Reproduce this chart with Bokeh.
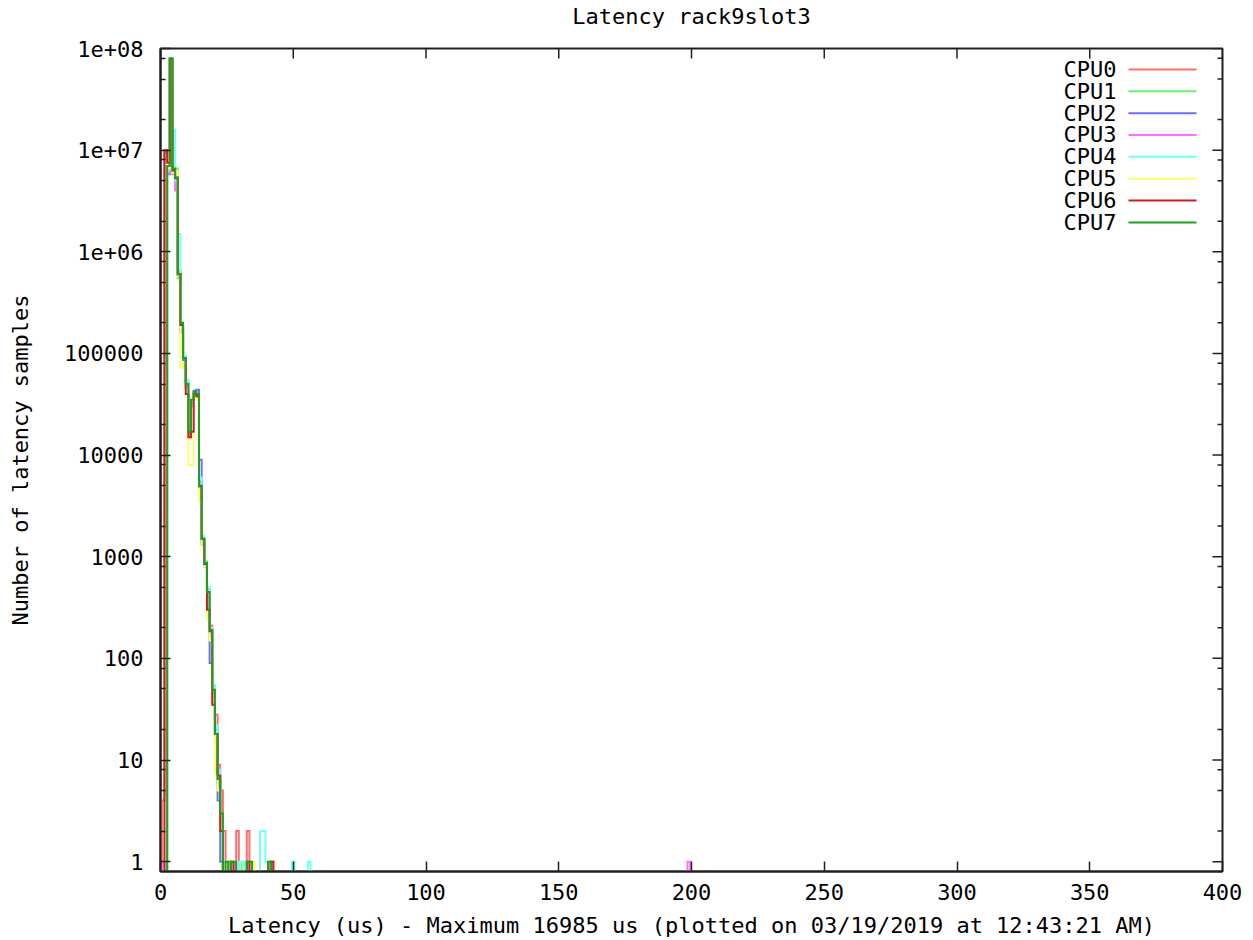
import numpy as np
from bokeh.plotting import figure
from bokeh.models import FixedTicker, Range1d, LinearAxis
from bokeh.core.properties import value
from bokeh.embed import file_html
from bokeh.resources import INLINE

# ---------------- data ----------------
title_text = "Latency rack9slot3"
x_label = "Latency (us) - Maximum 16985 us (plotted on 03/19/2019 at 12:43:21 AM)"
y_label = "Number of latency samples"

cpu_names = ["CPU0", "CPU1", "CPU2", "CPU3", "CPU4", "CPU5", "CPU6", "CPU7"]
cpu_colors = ["#ff6e6e", "#6cf06c", "#6e6eff", "#ff6eff",
              "#6effff", "#ffff6e", "#c81e1e", "#1ea01e"]

x_ticks = [0, 50, 100, 150, 200, 250, 300, 350, 400]
y_ticks = [1, 10, 100, 1000, 10000, 100000, 1000000, 10000000, 100000000]
y_tick_labels = ["1", "10", "100", "1000", "10000", "100000",
                 "1e+06", "1e+07", "1e+08"]
y_minor_mult = [2, 5, 8]

# latency bins (us) and sample counts per CPU (bins not listed are empty)
cpu0_bins = [1, 2, 3, 4, 5, 6, 7, 8, 9, 10, 11, 12, 13, 14, 15, 16, 17, 18, 19,
             20, 21, 22, 23, 24, 25, 29, 33, 42]
cpu0_counts = [4, 9.5e6, 1.0e7, 7.6e7, 6.0e6, 5.0e6, 6.5e5, 1.8e5, 8.8e4, 5.2e4,
               1.6e4, 3.2e4, 4.0e4, 3.8e4, 5.5e3, 1.4e3, 900, 480, 210,
               50, 28, 9, 5, 2, 1, 2, 2, 1]

cpu1_bins = [3, 4, 5, 6, 7, 8, 9, 10, 11, 12, 13, 14, 15, 16, 17, 18, 19,
             20, 21, 22, 23, 26, 31]
cpu1_counts = [6.5e6, 7.8e7, 6.8e6, 6.6e6, 5.5e5, 1.9e5, 9.2e4, 5.3e4,
               1.8e4, 3.1e4, 4.1e4, 3.9e4, 5.0e3, 1.45e3, 850, 430, 180,
               45, 16, 6, 2, 1, 1]

cpu2_bins = [3, 4, 5, 6, 7, 8, 9, 10, 11, 12, 13, 14, 15, 16, 17, 18, 19,
             20, 21, 22, 23]
cpu2_counts = [5.8e6, 7.9e7, 6.2e6, 5.2e6, 6.2e5, 1.7e5, 8.6e4, 4.6e4,
               1.6e4, 3.3e4, 4.3e4, 4.4e4, 9.0e3, 1.3e3, 800, 400, 90,
               40, 15, 4, 1]

cpu3_bins = [1, 3, 4, 5, 6, 7, 8, 9, 10, 11, 12, 13, 14, 15, 16, 17, 18, 19,
             20, 21, 22, 23, 24, 27, 199]
cpu3_counts = [1, 6.0e6, 7.7e7, 5.8e6, 4.0e6, 6.0e5, 1.6e5, 9.0e4, 5.0e4,
               1.5e4, 3.0e4, 4.0e4, 3.7e4, 5.2e3, 1.5e3, 880, 460, 200,
               52, 20, 7, 3, 1, 1, 1]

cpu4_bins = [3, 4, 5, 6, 7, 8, 9, 10, 11, 12, 13, 14, 15, 16, 17, 18, 19,
             20, 21, 22, 23, 24, 30, 31, 38, 39, 40, 50, 56]
cpu4_counts = [6.4e6, 8.0e7, 1.6e7, 5.0e6, 1.5e6, 1.8e5, 9.5e4, 5.5e4,
               1.8e4, 3.4e4, 4.1e4, 3.9e4, 6.0e3, 1.6e3, 900, 500, 200,
               55, 22, 8, 3, 1, 1, 1, 2, 2, 1, 1, 1]

cpu5_bins = [3, 4, 5, 6, 7, 8, 9, 10, 11, 12, 13, 14, 15, 16, 17, 18, 19,
             20, 21, 22, 23, 25, 35]
cpu5_counts = [6.7e6, 7.5e7, 6.0e6, 6.2e6, 5.8e5, 7.2e4, 8.0e4, 4.5e4,
               8.0e3, 8.0e3, 3.8e4, 3.5e4, 3.5e3, 1.2e3, 800, 240, 150,
               40, 7, 5, 2, 1, 1]

cpu6_bins = [2, 3, 4, 5, 6, 7, 8, 9, 10, 11, 12, 13, 14, 15, 16, 17, 18, 19,
             20, 21, 22, 23, 27, 33, 42]
cpu6_counts = [1.0e7, 7.5e6, 7.9e7, 6.3e6, 5.3e6, 6.0e5, 1.9e5, 9.0e4, 4.0e4,
               1.5e4, 1.7e4, 4.0e4, 3.8e4, 5.0e3, 1.5e3, 850, 300, 185,
               35, 18, 7, 2, 1, 1, 1]

cpu7_bins = [3, 4, 5, 6, 7, 8, 9, 10, 11, 12, 13, 14, 15, 16, 17, 18, 19,
             20, 21, 22, 23, 25, 27, 28, 33, 34, 41]
cpu7_counts = [7.0e6, 8.0e7, 6.6e6, 5.4e6, 6.0e5, 2.0e5, 9.0e4, 5.0e4,
               1.7e4, 3.5e4, 4.2e4, 4.0e4, 4.9e3, 1.5e3, 870, 450, 190,
               49, 18, 6.5, 3, 1, 1, 1, 1, 1, 1]

cpu_bins = [cpu0_bins, cpu1_bins, cpu2_bins, cpu3_bins,
            cpu4_bins, cpu5_bins, cpu6_bins, cpu7_bins]
cpu_counts = [cpu0_counts, cpu1_counts, cpu2_counts, cpu3_counts,
              cpu4_counts, cpu5_counts, cpu6_counts, cpu7_counts]

# ---------------- layout constants ----------------
FONT = "DejaVu Sans Mono"
FS = "22px"
W, H = 1253, 940
F_LEFT, F_RIGHT, F_TOP, F_BOTTOM = 160, 1222, 47, 872   # frame in canvas px
X0, X1 = 0, 400
Y0, Y1 = 0.8, 1e8
EMPTY = 1e-3   # empty bins drawn below the visible range (like gnuplot)
FRAME_COLOR = "#202020"

p = figure(width=W, height=H, title=None,
           x_range=Range1d(X0, X1), y_range=Range1d(Y0, Y1),
           y_axis_type="log", output_backend="svg", toolbar_location=None,
           min_border_left=F_LEFT, min_border_right=W - F_RIGHT,
           min_border_top=F_TOP, min_border_bottom=H - F_BOTTOM)

p.grid.grid_line_color = None
p.background_fill_color = "white"
p.border_fill_color = "white"
p.outline_line_color = FRAME_COLOR
p.outline_line_width = 2

y_minor = [m * t for t in y_ticks[:-1] for m in y_minor_mult]
overrides = {t: lab for t, lab in zip(y_ticks, y_tick_labels)}


def style_axis(ax):
    ax.axis_line_color = FRAME_COLOR
    ax.axis_line_width = 2
    ax.major_tick_line_color = FRAME_COLOR
    ax.major_tick_line_width = 1.5
    ax.minor_tick_line_color = FRAME_COLOR
    ax.minor_tick_line_width = 1.5
    ax.major_tick_in = 10
    ax.major_tick_out = 0
    ax.minor_tick_in = 5
    ax.minor_tick_out = 0
    ax.major_label_text_font = FONT
    ax.major_label_text_font_size = FS
    ax.major_label_text_color = "black"
    ax.axis_label_text_font = FONT
    ax.axis_label_text_font_size = FS
    ax.axis_label_text_font_style = "normal"
    ax.axis_label_text_color = "black"


xa = p.xaxis[0]
xa.ticker = FixedTicker(ticks=x_ticks)
style_axis(xa)
xa.major_label_standoff = 12
xa.axis_label = x_label
xa.axis_label_standoff = 10

ya = p.yaxis[0]
ya.ticker = FixedTicker(ticks=y_ticks, minor_ticks=y_minor)
ya.major_label_overrides = overrides
style_axis(ya)
ya.major_label_standoff = 17
ya.axis_label = y_label
ya.axis_label_standoff = 28

# title: carried by a tick-less axis above the frame
title_ax = LinearAxis(ticker=FixedTicker(ticks=[]), axis_label=title_text)
style_axis(title_ax)
title_ax.axis_line_color = None
title_ax.major_tick_in = 0
title_ax.minor_tick_in = 0
title_ax.major_label_standoff = 0
title_ax.axis_label_standoff = 20
p.add_layout(title_ax, "above")


# ---------------- helpers: pixel offsets inside the frame -----------------
def x_at(px):
    return X0 + (px - F_LEFT) / (F_RIGHT - F_LEFT) * (X1 - X0)


def y_at(py):
    ly0, ly1 = np.log10(Y0), np.log10(Y1)
    return 10 ** (ly1 - (py - F_TOP) / (F_BOTTOM - F_TOP) * (ly1 - ly0))


# mirrored ticks on top and right border (gnuplot style)
top_y1 = y_at(F_TOP + 10)
p.segment(x0=x_ticks, y0=[Y1] * len(x_ticks), x1=x_ticks,
          y1=[top_y1] * len(x_ticks), line_color=FRAME_COLOR, line_width=1.5)
p.segment(x0=[x_at(F_RIGHT - 10)] * len(y_ticks), y0=y_ticks,
          x1=[X1] * len(y_ticks), y1=y_ticks,
          line_color=FRAME_COLOR, line_width=1.5)
p.segment(x0=[x_at(F_RIGHT - 5)] * len(y_minor), y0=y_minor,
          x1=[X1] * len(y_minor), y1=y_minor,
          line_color=FRAME_COLOR, line_width=1.5)

# ---------------- histogram steps ----------------
n_bins = 210
x_bins = np.arange(n_bins)
for bins, counts, color in zip(cpu_bins, cpu_counts, cpu_colors):
    y = np.full(n_bins, EMPTY)
    for b, c in zip(bins, counts):
        y[b] = c
    p.step(x_bins, y, mode="center", line_color=color, line_width=2,
           line_join="miter")

# ---------------- legend (text left, line right, like gnuplot) -------------
rows = [y_at(68 + i * 21.9) for i in range(len(cpu_names))]
p.text(x=[x_at(1116)] * len(cpu_names), y=rows, text=cpu_names,
       text_align="right", text_baseline="middle",
       text_font=value(FONT), text_font_size=value(FS), text_color="black")
p.segment(x0=[x_at(1128)] * len(cpu_names), y0=rows,
          x1=[x_at(1196)] * len(cpu_names), y1=rows,
          line_color=cpu_colors, line_width=2)

open("out.html", "w").write(file_html(p, INLINE))
